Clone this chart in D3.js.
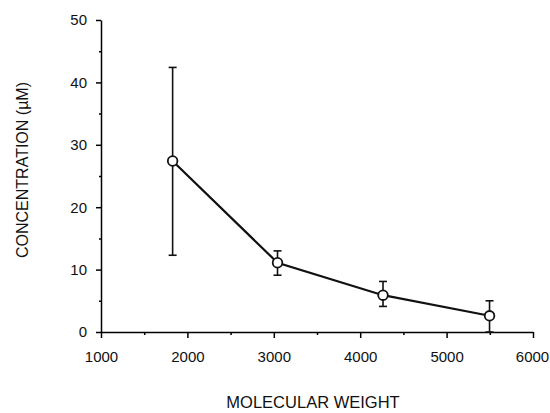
<!DOCTYPE html>
<html>
<head>
<meta charset="utf-8">
<script src="https://cdn.jsdelivr.net/npm/d3@7"></script>
<style>
  body { margin: 0; background: #fff; }
  svg text { font-family: "Liberation Sans", Arial, sans-serif; fill: #111; }
</style>
</head>
<body>
<svg class="chart" width="550" height="413"></svg>
<script>
// values
const weights = [1829, 3043, 4264, 5497];
const concs = [27.4, 11.1, 5.9, 2.6];
const errHigh = [42.4, 13.0, 8.1, 5.0];
const errLow = [12.3, 9.1, 4.1, 0];
const xTicks = [1000, 2000, 3000, 4000, 5000, 6000];
const yTicks = [0, 10, 20, 30, 40, 50];

const data = weights.map((w, i) => ({ w, c: concs[i], hi: errHigh[i], lo: errLow[i] }));

const svg = d3.select('svg.chart');
const margin = { top: 20, right: 17, bottom: 81, left: 101 };
const width = 550, height = 413;
const innerWidth = width - margin.left - margin.right;
const innerHeight = height - margin.top - margin.bottom;

const xScale = d3.scaleLinear().domain([1000, 6000]).range([0, innerWidth]);
const yScale = d3.scaleLinear().domain([0, 50]).range([innerHeight, 0]);

const g = svg.append('g')
    .attr('transform', `translate(${margin.left}, ${margin.top})`);

// minor ticks (no labels)
g.append('g')
    .attr('transform', `translate(0, ${innerHeight})`)
    .call(d3.axisBottom(xScale).tickValues(d3.range(1500, 6000, 1000)).tickSize(3).tickFormat(''))
    .call(a => a.select('.domain').remove())
    .call(a => a.selectAll('text').remove())
    .selectAll('line').attr('stroke-width', 1.5);

g.append('g')
    .call(d3.axisLeft(yScale).tickValues(d3.range(5, 50, 10)).tickSize(2).tickFormat(''))
    .call(a => a.select('.domain').remove())
    .call(a => a.selectAll('text').remove())
    .selectAll('line').attr('stroke-width', 1.5);

const xAxis = g.append('g')
    .attr('transform', `translate(0, ${innerHeight})`)
    .call(d3.axisBottom(xScale).tickValues(xTicks).tickSize(6).tickSizeOuter(0).tickPadding(13).tickFormat(d3.format('d')));
xAxis.select('.domain').attr('stroke-width', 1.5);
xAxis.selectAll('line').attr('stroke-width', 1.5);
xAxis.selectAll('text').attr('font-size', 15).attr('fill', '#111');
// keep the last label inside the frame
xAxis.selectAll('text').filter(d => d === 6000).attr('dx', -1);

const yAxis = g.append('g')
    .call(d3.axisLeft(yScale).tickValues(yTicks).tickSize(5).tickSizeOuter(0).tickPadding(9));
yAxis.select('.domain').attr('stroke-width', 1.5);
yAxis.selectAll('line').attr('stroke-width', 1.5);
yAxis.selectAll('text').attr('font-size', 15).attr('fill', '#111');

// error bars
const eb = g.selectAll('.err').data(data).enter().append('g').attr('class', 'err')
    .attr('stroke', '#111').attr('stroke-width', 1.6);
eb.append('line')
    .attr('x1', d => xScale(d.w)).attr('x2', d => xScale(d.w))
    .attr('y1', d => yScale(d.hi)).attr('y2', d => yScale(d.lo));
eb.append('line')
    .attr('x1', d => xScale(d.w) - 4).attr('x2', d => xScale(d.w) + 4)
    .attr('y1', d => yScale(d.hi)).attr('y2', d => yScale(d.hi));
eb.append('line')
    .attr('x1', d => xScale(d.w) - 4).attr('x2', d => xScale(d.w) + 4)
    .attr('y1', d => yScale(d.lo)).attr('y2', d => yScale(d.lo));

// line
const line = d3.line().x(d => xScale(d.w)).y(d => yScale(d.c));
g.append('path')
    .datum(data)
    .attr('d', line)
    .attr('fill', 'none')
    .attr('stroke', '#111')
    .attr('stroke-width', 2.2);

// markers
g.selectAll('circle').data(data)
    .enter().append('circle')
    .attr('cx', d => xScale(d.w))
    .attr('cy', d => yScale(d.c))
    .attr('r', 4.8)
    .attr('fill', '#fff')
    .attr('stroke', '#111')
    .attr('stroke-width', 1.8);

// axis titles
svg.append('text')
    .attr('x', 313)
    .attr('y', 408)
    .attr('text-anchor', 'middle')
    .attr('font-size', 16.5)
    .text('MOLECULAR WEIGHT');

svg.append('text')
    .attr('transform', 'translate(28, 170) rotate(-90)')
    .attr('text-anchor', 'middle')
    .attr('font-size', 16)
    .text('CONCENTRATION (\u00b5M)');
</script>
</body>
</html>
